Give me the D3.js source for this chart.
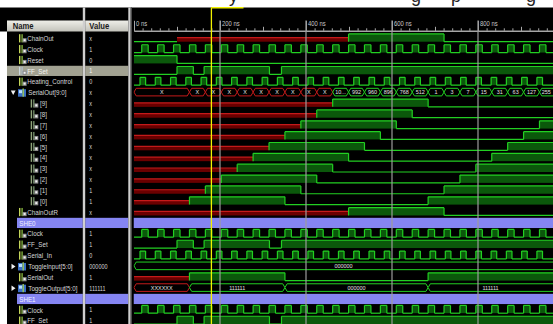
<!DOCTYPE html>
<html>
<head>
<meta charset="utf-8">
<script src="https://cdn.jsdelivr.net/npm/d3@7/dist/d3.min.js"></script>
<style>
body { margin: 0; background: #fff; }
svg { display: block; }
text { font-family: "Liberation Sans", Arial, sans-serif; }
</style>
</head>
<body>
<script>
var w = 553;
var h = 324;

// signal list (name / value columns)
var rowNames = ["ChainOut", "Clock", "Reset", "FF_Set", "Heating_Control", "SerialOut[9:0]",
    "[9]", "[8]", "[7]", "[6]", "[5]", "[4]", "[3]", "[2]", "[1]", "[0]",
    "ChainOutR", "SHE0", "Clock", "FF_Set", "Serial_In", "ToggleInput[5:0]", "SerialOut",
    "ToggleOutput[5:0]", "SHE1", "Clock", "FF_Set"];
var rowValues = ["x", "1", "0", "1", "0", "x",
    "x", "x", "x", "x", "x", "x", "x", "x", "1", "1",
    "x", "", "1", "1", "0", "000000", "1",
    "111111", "", "1", "1"];
var rowKinds = ["sig", "sig", "sig", "sig", "sig", "busOpen",
    "bit", "bit", "bit", "bit", "bit", "bit", "bit", "bit", "bit", "bit",
    "sig", "group", "sig", "sig", "sig", "busClosed", "sig",
    "busClosed", "group", "sig", "sig"];
var selectedRow = 3;

// times in ns
var cursorTime = 180;
var majorTicks = [0, 200, 400, 600, 800];
var clockRise = [18, 55, 92, 129, 166, 203, 240, 277, 314, 351, 388, 425, 462,
    499, 536, 573, 610, 647, 684, 721, 758, 795, 832, 869, 906, 943];
var clockHighNs = 15;
var heatRise = [14, 49.5, 85, 120.5, 156, 191.5, 227, 262.5, 298, 333.5, 369, 404.5, 440,
    475.5, 511, 546.5, 582, 617.5, 653, 688.5, 724, 759.5, 795, 830.5, 866, 901.5, 937];
var heatHighNs = 13;
var chainOutChanges = [[0, "0"], [100, "X"], [499, "1"], [721, "0"]];
var resetChanges = [[0, "1"], [100, "0"]];
var ffSetChanges = [[0, "0"], [100, "1"], [138, "0"], [163, "1"], [315, "0"], [343, "1"]];
var chainOutRChanges = [[0, "X"], [499, "1"], [721, "0"]];
// SerialOut bits 0..9
var bitValidAt = [129, 166, 203, 240, 277, 314, 351, 388, 425, 462];
var bitFallAt = [351, 388, 425, 462, 499, 536, 573, 610, 647, 684];
var bitRiseAt = [684, 721, 758, 795, 832, 869, 906, 943, null, null];
var serialOutTimes = [0, 129, 166, 203, 240, 277, 314, 351, 388, 425, 462, 499, 536, 573,
    610, 647, 684, 721, 758, 795, 832, 869, 906, 943];
var serialOutLabels = ["X", "X", "X", "X", "X", "X", "X", "X", "X", "X", "1008", "992", "960", "896",
    "768", "512", "1", "3", "7", "15", "31", "63", "127", "255"];
var toggleInTimes = [0];
var toggleInLabels = ["000000"];
var serialBitChanges = [[0, "X"], [129, "1"], [351, "0"], [684, "1"]];
var toggleOutTimes = [0, 129, 351, 684];
var toggleOutLabels = ["XXXXXX", "111111", "000000", "111111"];

var green = "#22d022", greenFill = "#0b580b", red = "#c41a1a", redFill = "#6a0000";

var x = d3.scaleLinear().domain([0, 1000]).range([134, 564]);
var rowY = d3.scaleLinear().domain([0, 1]).range([33.4, 44.26]);

function fromRises(rises, highNs) {
    var out = [[0, "0"]];
    rises.forEach(function(r) {
        out.push([r, "1"]);
        out.push([r + highNs, "0"]);
    });
    return out;
}
function bitChanges(n) {
    var c = [[0, "X"], [bitValidAt[n], "1"], [bitFallAt[n], "0"]];
    if (bitRiseAt[n] != null) c.push([bitRiseAt[n], "1"]);
    return c;
}
var clockWave = fromRises(clockRise, clockHighNs);
var heatWave = fromRises(heatRise, heatHighNs);

var waves = [
    {bit: chainOutChanges}, {bit: clockWave}, {bit: resetChanges}, {bit: ffSetChanges}, {bit: heatWave},
    {bus: serialOutTimes, labels: serialOutLabels}
];
for (var b = 9; b >= 0; b--) waves.push({bit: bitChanges(b)});
waves = waves.concat([
    {bit: chainOutRChanges}, null, {bit: clockWave}, {bit: ffSetChanges}, {bit: heatWave},
    {bus: toggleInTimes, labels: toggleInLabels}, {bit: serialBitChanges},
    {bus: toggleOutTimes, labels: toggleOutLabels},
    null, {bit: clockWave}, {bit: ffSetChanges}
]);

var svg = d3.select("body")
    .append("svg")
    .attr("width", w)
    .attr("height", h);

svg.append("rect").attr("width", w).attr("height", h).attr("fill", "#000");
svg.append("rect").attr("width", w).attr("height", 7.5).attr("fill", "#fff");
svg.append("rect").attr("x", 0).attr("y", 31.5).attr("width", 7).attr("height", h).attr("fill", "#fff");

// bits of the page text cut off above the screenshot
svg.selectAll("text.page")
    .data([["y", 229], ["g", 411], ["p", 451], ["g", 526]])
    .enter()
    .append("text")
    .attr("x", function(d) { return d[1]; })
    .attr("y", 1.8)
    .attr("font-family", "Liberation Serif")
    .attr("font-size", 18)
    .attr("fill", "#222")
    .text(function(d) { return d[0]; });

var defs = svg.append("defs");
var grad = defs.append("linearGradient").attr("id", "hdr").attr("x1", 0).attr("y1", 0).attr("x2", 0).attr("y2", 1);
grad.append("stop").attr("offset", 0).attr("stop-color", "#eeeee8");
grad.append("stop").attr("offset", 1).attr("stop-color", "#c2c2ba");
defs.append("clipPath").attr("id", "wclip")
    .append("rect").attr("x", 133.5).attr("y", 7.5).attr("width", w - 133.5).attr("height", h);

// column headers
svg.append("rect").attr("x", 7).attr("y", 20.5).attr("width", 76).attr("height", 11).attr("fill", "url(#hdr)");
svg.append("rect").attr("x", 85.2).attr("y", 20.5).attr("width", 43.1).attr("height", 11).attr("fill", "url(#hdr)");
svg.selectAll("text.hdr")
    .data([["Name", 12.7], ["Value", 89.3]])
    .enter()
    .append("text")
    .attr("transform", function(d) { return "translate(" + d[1] + ",28.9) scale(0.9,1)"; })
    .attr("font-size", 8.5)
    .attr("font-weight", "bold")
    .attr("fill", "#1a1a1a")
    .text(function(d) { return d[0]; });

// selected row and group rows in the left panel
var leftBands = rowNames.map(function(n, i) { return i; }).filter(function(i) {
    return i === selectedRow || rowKinds[i] === "group";
});
leftBands.forEach(function(i) {
    var isGroup = rowKinds[i] === "group";
    var fill = isGroup ? "#8585f2" : "#a2a292";
    var x0 = isGroup ? 17 : 7;
    svg.append("rect").attr("x", x0).attr("y", rowY(i) - 0.2).attr("width", 82.8 - x0).attr("height", 10.2).attr("fill", fill);
    svg.append("rect").attr("x", 85.2).attr("y", rowY(i) - 0.2).attr("width", 43.1).attr("height", 10.2).attr("fill", fill);
});

// column separators
svg.append("rect").attr("x", 82.8).attr("y", 7.5).attr("width", 2.4).attr("height", h).attr("fill", "#cfcfcf");
svg.append("rect").attr("x", 128.3).attr("y", 7.5).attr("width", 2.4).attr("height", h).attr("fill", "#cfcfcf");
svg.append("rect").attr("x", 130.7).attr("y", 7.5).attr("width", 1.3).attr("height", h).attr("fill", "#4a4a4a");

var textX = {sig: 27.3, bit: 40, busOpen: 28.3, busClosed: 28.3, group: 19.3};
var iconX = {sig: 19, bit: 30.7, busOpen: 18, busClosed: 18};

svg.selectAll("text.name")
    .data(rowNames)
    .enter()
    .append("text")
    .attr("transform", function(d, i) {
        return "translate(" + textX[rowKinds[i]] + "," + (rowY(i) + 7.6) + ") scale(0.78,1)";
    })
    .attr("font-size", 8)
    .attr("fill", function(d, i) { return rowKinds[i] === "group" ? "#f2f2ff" : (i === selectedRow ? "#f4f4f0" : "#d6d6d6"); })
    .text(function(d) { return d; });

svg.selectAll("text.val")
    .data(rowValues)
    .enter()
    .append("text")
    .attr("transform", function(d, i) { return "translate(89.3," + (rowY(i) + 7.4) + ") scale(0.78,1)"; })
    .attr("font-size", 7)
    .attr("fill", function(d, i) { return i === selectedRow ? "#f4f4f0" : "#d6d6d6"; })
    .text(function(d) { return d; });

// small icons and expand arrows
rowKinds.forEach(function(k, i) {
    var t = rowY(i);
    var ix = iconX[k];
    var g = svg.append("g");
    if (k === "sig" || k === "bit") {
        var c1 = k === "sig" ? "#c4d65a" : "#8fa47a";
        var c2 = k === "sig" ? "#7fae3a" : "#6f8a66";
        if (i === selectedRow) { c1 = "#c8d4dc"; c2 = "#aebcc6"; }
        g.append("rect").attr("x", ix).attr("y", t + 0.8).attr("width", 1.4).attr("height", 8.2).attr("fill", c1);
        g.append("rect").attr("x", ix + 2.4).attr("y", t + 0.8).attr("width", 1.4).attr("height", 8.2).attr("fill", c2);
        g.append("rect").attr("x", ix + 3.6).attr("y", t + 4.8).attr("width", 4).attr("height", 4.2).attr("fill", "#8a8a8a");
        g.append("rect").attr("x", ix + 4.6).attr("y", t + 5.8).attr("width", 2).attr("height", 2).attr("fill", "#f0f0f0");
    } else if (k === "busOpen" || k === "busClosed") {
        g.append("rect").attr("x", ix).attr("y", t + 1.5).attr("width", 8).attr("height", 7.5).attr("fill", "#3b6fc4");
        g.append("rect").attr("x", ix + 1).attr("y", t + 2.5).attr("width", 3).attr("height", 3).attr("fill", "#b8dcff");
        g.append("rect").attr("x", ix + 4.5).attr("y", t + 0.8).attr("width", 1.4).attr("height", 8.2).attr("fill", "#9cc85a");
        var c = t + 5;
        var tri = k === "busOpen"
            ? [[10.8, c - 2.2], [15.6, c - 2.2], [13.2, c + 2.2]]
            : [[11.5, c - 2.8], [11.5, c + 2.8], [15.5, c]];
        g.append("polygon").attr("points", tri.join(" ")).attr("fill", "#f0f0f0");
    }
});

// waveform pane
var wave = svg.append("g").attr("clip-path", "url(#wclip)");

// time axis
var axisY = 30.8;
var minorAxis = d3.axisTop(x).tickValues(d3.range(0, 1000, 20)).tickSize(2.5).tickSizeOuter(0).tickFormat("");
var midAxis = d3.axisTop(x).tickValues(d3.range(100, 1000, 200)).tickSize(4).tickSizeOuter(0).tickFormat("");
var majorAxis = d3.axisTop(x).tickValues(majorTicks).tickSize(10).tickSizeOuter(0)
    .tickFormat(function(d) { return d + " ns"; });
[minorAxis, midAxis, majorAxis].forEach(function(a) {
    var ag = wave.append("g").attr("transform", "translate(0," + axisY + ")").call(a);
    ag.select(".domain").attr("stroke", "#a8a8a8");
    ag.selectAll(".tick line").attr("stroke", "#a8a8a8");
    ag.selectAll(".tick text")
        .attr("x", 1.6 / 0.9)
        .attr("y", -4.4)
        .attr("dy", 0)
        .attr("transform", "scale(0.9,1)")
        .attr("text-anchor", "start")
        .attr("font-size", 6.5)
        .attr("font-family", "Liberation Sans, Arial, sans-serif")
        .attr("fill", "#c8c8c8");
});

function toSegs(changes) {
    return changes.map(function(c, i) {
        return {t0: c[0], t1: i + 1 < changes.length ? changes[i + 1][0] : 1000, v: c[1]};
    });
}

function drawBit(g, changes, i) {
    var top = rowY(i), hi = top + 0.5, lo = top + 8.3, mid = top + 4.3;
    var lvl = function(v) { return v === "1" ? hi : (v === "0" ? lo : mid); };
    var segs = toSegs(changes);
    g.selectAll("rect.hi")
        .data(segs.filter(function(s) { return s.v === "1"; }))
        .enter()
        .append("rect")
        .attr("x", function(d) { return x(d.t0); })
        .attr("y", hi)
        .attr("width", function(d) { return x(d.t1) - x(d.t0); })
        .attr("height", lo - hi)
        .attr("fill", greenFill);
    g.selectAll("rect.xx")
        .data(segs.filter(function(s) { return s.v === "X"; }))
        .enter()
        .append("rect")
        .attr("x", function(d) { return x(d.t0); })
        .attr("y", mid)
        .attr("width", function(d) { return x(d.t1) - x(d.t0); })
        .attr("height", lo - mid)
        .attr("fill", redFill);
    g.selectAll("line.lv")
        .data(segs)
        .enter()
        .append("line")
        .attr("x1", function(d) { return x(d.t0); })
        .attr("x2", function(d) { return x(d.t1); })
        .attr("y1", function(d) { return lvl(d.v); })
        .attr("y2", function(d) { return lvl(d.v); })
        .attr("stroke", function(d) { return d.v === "X" ? red : green; })
        .attr("stroke-width", 1.2);
    g.selectAll("line.edge")
        .data(segs.slice(1))
        .enter()
        .append("line")
        .attr("x1", function(d) { return x(d.t0); })
        .attr("x2", function(d) { return x(d.t0); })
        .attr("y1", function(d, j) { var p = segs[j].v; return p === "X" ? lo : lvl(p); })
        .attr("y2", function(d) { return d.v === "X" ? lo : lvl(d.v); })
        .attr("stroke", function(d) { return d.v === "X" ? red : green; })
        .attr("stroke-width", 1.2);
}

function drawBus(g, times, labels, i) {
    var top = rowY(i), hi = top + 0.6, lo = top + 8.2, mid = (hi + lo) / 2;
    var segs = times.map(function(t, j) {
        return {t0: t, t1: j + 1 < times.length ? times[j + 1] : 1100, label: labels[j]};
    });
    var isX = function(d) { return d.label.indexOf("X") >= 0; };
    g.selectAll("polygon")
        .data(segs)
        .enter()
        .append("polygon")
        .attr("points", function(d) {
            var x0 = x(d.t0), x1 = x(d.t1);
            return [[x0, mid], [x0 + 2.2, hi], [x1 - 2.2, hi], [x1, mid], [x1 - 2.2, lo], [x0 + 2.2, lo]].join(" ");
        })
        .attr("fill", "#000")
        .attr("stroke", function(d) { return isX(d) ? red : green; })
        .attr("stroke-width", 1);
    var sx = 0.88;
    g.selectAll("text")
        .data(segs)
        .enter()
        .append("text")
        .attr("transform", function(d) {
            var a = Math.max(x(d.t0), 134), b = Math.min(x(d.t1), w);
            return "translate(" + ((a + b) / 2) + "," + (mid + 2.2) + ") scale(" + sx + ",1)";
        })
        .attr("text-anchor", "middle")
        .attr("font-size", 6.2)
        .attr("fill", "#e2e2e2")
        .each(function(d) {
            var sel = d3.select(this);
            var avail = Math.min(x(d.t1), w) - Math.max(x(d.t0), 134) - 4;
            var s = d.label;
            sel.text(s);
            while (this.getComputedTextLength() * sx > avail && s.length > 1) {
                s = s.slice(0, -1);
                sel.text(s + "...");
            }
        });
}

// group bands across the waveform pane
rowKinds.forEach(function(k, i) {
    if (k === "group") {
        wave.append("rect").attr("x", 133.5).attr("y", rowY(i) - 0.2).attr("width", w).attr("height", 10.2).attr("fill", "#8585f2");
    }
});

waves.forEach(function(wv, i) {
    if (!wv) return;
    var g = wave.append("g");
    if (wv.bit) drawBit(g, wv.bit, i);
    else drawBus(g, wv.bus, wv.labels, i);
});

// grid lines
wave.selectAll("line.grid")
    .data(majorTicks.slice(1))
    .enter()
    .append("line")
    .attr("x1", function(d) { return x(d); })
    .attr("x2", function(d) { return x(d); })
    .attr("y1", 20.5)
    .attr("y2", h)
    .attr("stroke", "#9c9c9c")
    .attr("stroke-opacity", 0.85)
    .attr("stroke-width", 1.4);

// cursor
svg.append("line")
    .attr("x1", x(cursorTime)).attr("x2", x(cursorTime))
    .attr("y1", 7.5).attr("y2", h)
    .attr("stroke", "#f2f200").attr("stroke-width", 1.3);
svg.append("line")
    .attr("x1", x(cursorTime)).attr("x2", 243.5)
    .attr("y1", 7.8).attr("y2", 7.8)
    .attr("stroke", "#f2f200").attr("stroke-width", 1.5);
</script>
</body>
</html>
